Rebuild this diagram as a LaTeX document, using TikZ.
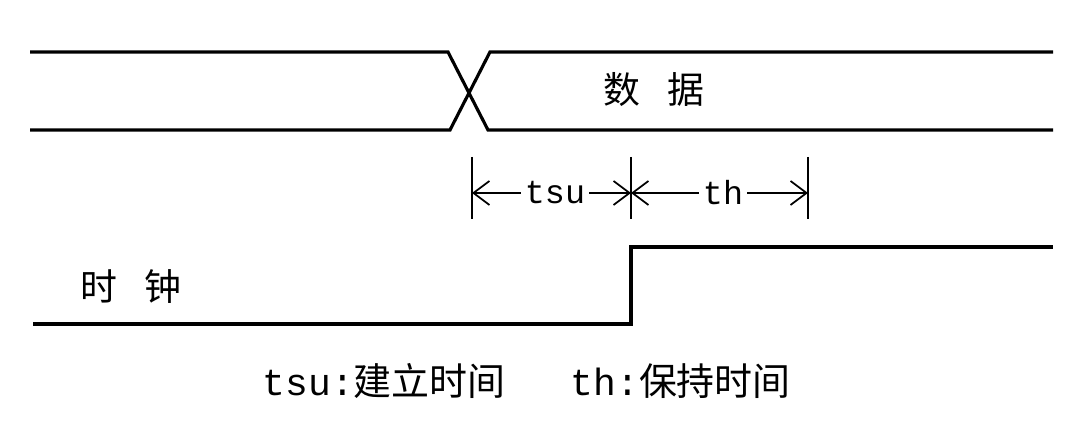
\documentclass[tikz,border=0pt]{standalone}
\usepackage{fontspec}
\setmonofont{Liberation Mono}
\newfontfamily\cjk{Noto Sans CJK SC}
\usetikzlibrary{arrows.meta}

\tikzset{
  wave/.style={line width=0.9pt},
  tick/.style={line width=0.6pt},
  dimarrow/.style={line width=0.5pt,-{Straight Barb[length=1.6mm,width=2.4mm]}},
  cjklabel/.style={font=\cjk\fontsize{10.5}{12}\selectfont},
  timelabel/.style={font=\ttfamily\fontsize{9.5}{11}\selectfont, inner sep=1pt},
  notelabel/.style={font=\fontsize{10.8}{13}\selectfont, inner sep=0pt}
}

\begin{document}
\begin{tikzpicture}[scale=1]
      \useasboundingbox (0,0) rectangle (10.73,4.34);

      % Data signal
      \draw[wave] (0.30,3.82) -- (4.48,3.82) -- (4.88,3.04) -- (10.53,3.04);
      \draw[wave] (0.30,3.04) -- (4.50,3.04) -- (4.90,3.82) -- (10.53,3.82);
      \node[cjklabel] (data) at (6.54,3.44) {数\hspace{0.75em}据};

      % Clock signal
      \draw[wave] (0.33,1.10) -- (6.31,1.10) -- (6.31,1.87) -- (10.53,1.87);
      \node[cjklabel] (clk) at (1.31,1.47) {时\hspace{0.75em}钟};

      % Ticks for setup and hold
      \foreach \x/\n in {4.72/a,6.31/b,8.08/c} {
          \draw[tick] (\x,2.77) -- (\x,2.15);
          \coordinate (\n) at (\x,2.41);
        }

      % Setup and hold arrows
      \node[timelabel] (tsu) at (5.55,2.41) {tsu};
      \node[timelabel] (th) at (7.23,2.41) {th};
      \draw[dimarrow] (tsu) -- (a);
      \draw[dimarrow] (tsu) -- (b);
      \draw[dimarrow] (th) -- (b);
      \draw[dimarrow] (th) -- (c);

      % Notes below
      \node[notelabel, right] (tsunote) at (2.62,0.53) {\ttfamily tsu:\cjk 建立时间};
      \node[notelabel, right] (thnote) at (5.70,0.53) {\ttfamily th:\cjk 保持时间};
    \end{tikzpicture}
\end{document}
